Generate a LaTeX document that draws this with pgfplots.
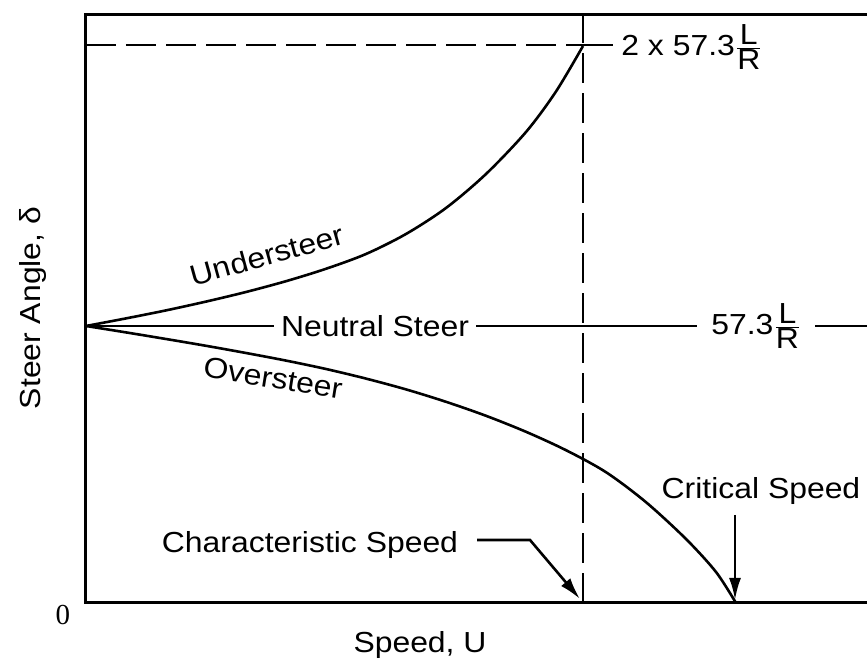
\documentclass[border=0pt]{standalone}
\usepackage{fontspec}
\setmainfont{Liberation Sans}[FakeStretch=1.1]
\newfontfamily\serifnum{Liberation Serif}
\usepackage{pgfplots}
\pgfplotsset{compat=1.18}
\usetikzlibrary{arrows.meta}
\begin{document}
\begin{tikzpicture}[every node/.style={font=\fontsize{14.5}{17}\selectfont}]
\useasboundingbox (-43pt,-30pt) rectangle (390.5pt,301.5pt);
\begin{axis}[
  at={(0,0)}, anchor=south west,
  scale only axis, width=390.5pt, height=294pt,
  xmin=0, xmax=781, ymin=0, ymax=588,
  axis lines=none, clip=false,
]
% frame (top, left, bottom)
\addplot[black, line width=1.5pt, line join=miter] coordinates {(781,588) (0,588) (0,0) (781,0)};
% characteristic speed dashed guides
\addplot[black, line width=1.4pt, dash pattern=on 15pt off 5pt] coordinates {(497,0) (497,588)};
\addplot[black, line width=1.4pt, dash pattern=on 15pt off 5pt] coordinates {(0,558) (497,558)};
\addplot[black, line width=1.2pt] coordinates {(497,558) (527,558)};
% neutral steer
\addplot[black, line width=1.3pt] coordinates {(0,277) (781,277)};
% understeer
\addplot[black, line width=1.3pt, smooth] coordinates {
 (0,277) (40,284.6) (80,292.6) (120,301.4) (160,311) (200,321.8) (240,334.2)
 (280,349) (320,369) (360,395) (400,429) (440,471) (470,511.5) (497,557)};
% oversteer
\addplot[black, line width=1.3pt, smooth] coordinates {
 (0,277) (40,270.6) (80,264) (120,257.2) (160,250) (200,242.4) (240,234) (280,224.4)
 (320,213.6) (360,201.2) (400,187.2) (440,171.2) (480,152.8) (520,130.8) (560,100.8)
 (600,64) (630,31) (650,0)};
% labels on lines
\node[fill=white, inner xsep=3.5pt, inner ysep=1pt] at (axis cs:289,277) {Neutral Steer};
\node[fill=white, anchor=west, inner xsep=7pt, inner ysep=1pt] at (axis cs:611,277) {57.3$\frac{\mbox{L}}{\mbox{R}}$};
\node[anchor=west, inner sep=0pt] at (axis cs:535,556) {2 x 57.3$\frac{\mbox{L}}{\mbox{R}}$};
\node[rotate=15.5] at (axis cs:181,348) {Understeer};
\node[rotate=-9] at (axis cs:187,225) {Oversteer};
% speeds
\node at (axis cs:224,58) {Characteristic Speed};
\draw[line width=1.3pt, -{Latex[length=11pt,width=6pt]}] (axis cs:391,63) -- (axis cs:444,63) -- (axis cs:494,4);
\node at (axis cs:675,112) {Critical Speed};
\draw[line width=1.3pt, -{Latex[length=11pt,width=6pt]}] (axis cs:649,88) -- (axis cs:649,3);
% axis labels
\node[rotate=90] at (axis cs:-53,295) {Steer Angle, δ};
\node at (axis cs:334,-42) {Speed, U};
\node at (axis cs:-23,-12) {\serifnum 0};
\end{axis}
\end{tikzpicture}
\end{document}
